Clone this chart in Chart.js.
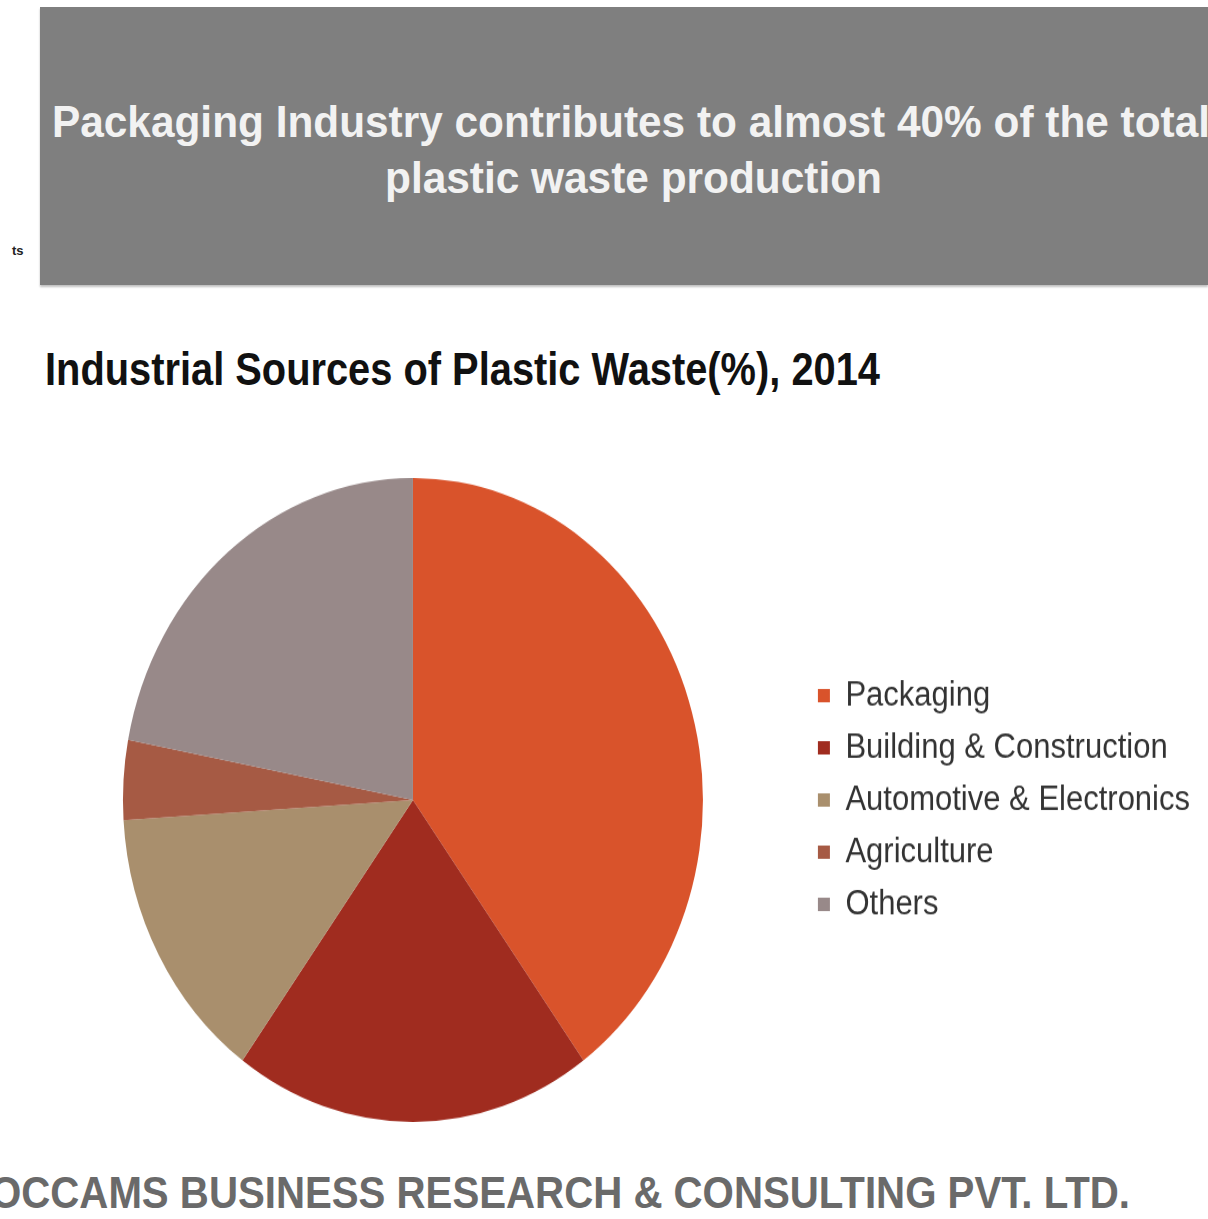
<!DOCTYPE html>
<html>
<head>
<meta charset="utf-8">
<title>Industrial Sources of Plastic Waste</title>
<script src="https://cdn.jsdelivr.net/npm/chart.js@4.4.1/dist/chart.umd.min.js"></script>
<style>
  html, body {
    margin: 0;
    padding: 0;
    background: #fff;
    width: 1208px;
    height: 1219px;
    overflow: hidden;
    font-family: "Liberation Sans", Arial, sans-serif;
  }
  .abs {
    position: absolute;
    white-space: nowrap;
    line-height: 1;
    transform-origin: left top;
  }
  #banner {
    position: absolute;
    left: 40px;
    top: 7px;
    width: 1168px;
    height: 278px;
    background: #7f7f7f;
    box-shadow: 0 2px 2px rgba(0, 0, 0, 0.25);
  }
  .head { color: #f2f2f2; font-weight: bold; font-size: 45px; }
  #subtitle { color: #111; font-weight: bold; font-size: 46px; left: 45px; top: 346px; }
  #footer { color: #6a6a6a; font-weight: bold; font-size: 44px; left: -10px; top: 1171px; }
  #stray { color: #222; font-weight: bold; font-size: 13px; left: 12px; top: 244px; }
  #chartBox {
    position: absolute;
    left: 0;
    top: 478px;
    width: 1208px;
    height: 580px;
    transform: scaleY(1.1103);
    transform-origin: left top;
  }
</style>
</head>
<body>
<div id="banner"></div>
<div class="abs head" id="head1" data-w="1158" style="left:52px;top:99px;">Packaging Industry contributes to almost 40% of the total</div>
<div class="abs head" id="head2" data-w="497" style="left:385px;top:155px;">plastic waste production</div>
<div class="abs" id="stray">ts</div>
<div class="abs" id="subtitle" data-w="835">Industrial Sources of Plastic Waste(%), 2014</div>
<div id="chartBox"><canvas id="pieChart" width="1208" height="580"></canvas></div>
<div class="abs" id="footer" data-w="1140">OCCAMS BUSINESS RESEARCH &amp; CONSULTING PVT. LTD.</div>

<script>
const categories = [
  "Packaging",
  "Building & Construction",
  "Automotive & Electronics",
  "Agriculture",
  "Others"
];
// share of plastic waste, %
const shares = [40, 20, 14, 4, 22];
const sliceColors = ["#d9532b", "#a02c1f", "#a98f6d", "#a65a44", "#988989"];

document.addEventListener("DOMContentLoaded", function () {
  // squeeze each text line to the width it has in the picture
  document.querySelectorAll("[data-w]").forEach((el) => {
    const target = parseFloat(el.dataset.w);
    const actual = el.getBoundingClientRect().width;
    el.style.transform = `scaleX(${target / actual})`;
  });

  const canvas = document.getElementById("pieChart");

  new Chart(canvas, {
    type: "pie",
    data: {
      labels: categories,
      datasets: [
        {
          data: shares,
          backgroundColor: sliceColors,
          borderWidth: 0
        }
      ]
    },
    options: {
      responsive: false,
      animation: false,
      devicePixelRatio: 1,
      layout: {
        padding: { left: 24, right: 8, top: 0, bottom: 0 }
      },
      plugins: {
        tooltip: { enabled: false },
        legend: {
          position: "right",
          align: "center",
          labels: {
            boxWidth: 12,
            boxHeight: 12,
            padding: 16,
            color: "#333",
            font: { family: "'Liberation Sans', Arial, sans-serif", size: 31 }
          }
        }
      }
    }
  });
});
</script>
</body>
</html>
